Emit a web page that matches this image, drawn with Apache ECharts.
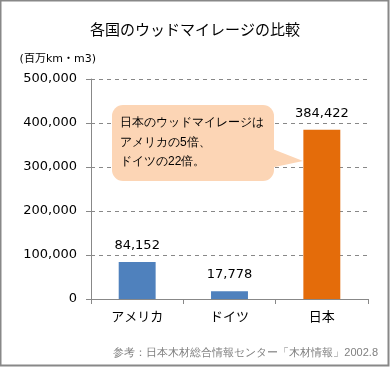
<!DOCTYPE html>
<html><head><meta charset="utf-8">
<script src="https://cdn.jsdelivr.net/npm/echarts@6/dist/echarts.min.js"></script>
<style>html,body{margin:0;padding:0;background:#fff}#c{width:390px;height:367px}</style>
</head><body><div id="c"></div>
<script>
const titleText = '各国のウッドマイレージの比較';
const unitText = '(百万km・m3)';
const categories = ['アメリカ', 'ドイツ', '日本'];
const values = [84152, 17778, 384422];
const barColors = ['#4F81BD', '#4F81BD', '#E46C0A'];
const yTicks = [0, 100000, 200000, 300000, 400000, 500000];
const calloutLines = ['日本のウッドマイレージは', 'アメリカの5倍、', 'ドイツの22倍。'];
const sourceText = '参考：日本木材総合情報センター「木材情報」2002.8';

const FONT = "'DejaVu Sans','Noto Sans CJK JP',sans-serif";
const chart = echarts.init(document.getElementById('c'));
chart.setOption({
  animation: false,
  textStyle: { fontFamily: FONT },
  title: { text: titleText, left: 'center', top: 19,
    textStyle: { fontSize: 15, fontWeight: 'normal', color: '#000', fontFamily: FONT } },
  grid: { left: 91, right: 22, top: 79, bottom: 68, containLabel: false },
  xAxis: { type: 'category', data: categories,
    axisLine: { lineStyle: { color: '#888' } },
    axisTick: { show: true, length: 5, lineStyle: { color: '#888' } },
    axisLabel: { fontSize: 13, color: '#000', margin: 12, fontFamily: FONT } },
  yAxis: { type: 'value', min: yTicks[0], max: yTicks[yTicks.length - 1], interval: 100000,
    name: unitText, nameLocation: 'end', nameGap: 14,
    nameTextStyle: { fontSize: 11, color: '#000', align: 'right', padding: [0, -5, 0, 0], fontFamily: FONT },
    axisLine: { show: true, lineStyle: { color: '#888' } },
    axisTick: { show: true, length: 5, lineStyle: { color: '#888' } },
    splitLine: { lineStyle: { color: '#888', type: [4, 4] } },
    axisLabel: { fontSize: 13, color: '#000', margin: 14, fontFamily: FONT,
      formatter: v => v.toLocaleString('en-US') } },
  series: [{ type: 'bar', barWidth: '40%',
    data: values.map((v, i) => ({ value: v, itemStyle: { color: barColors[i] } })),
    label: { show: true, position: 'top', distance: 10, fontSize: 13, color: '#000', fontFamily: FONT,
      formatter: p => p.value.toLocaleString('en-US') } }],
  graphic: [
    { type: 'rect', shape: { x: 0.5, y: 0.5, width: 388, height: 365 },
      style: { fill: 'none', stroke: '#888', lineWidth: 2 }, silent: true },
    { type: 'polygon', shape: { points: [[270, 148], [303, 161], [270, 168]] },
      style: { fill: '#FCD5B5' }, z: 10 },
    { type: 'rect', shape: { x: 112, y: 105, width: 162, height: 76, r: 11 },
      style: { fill: '#FCD5B5' }, z: 10 },
    { type: 'text', left: 120, top: 113, z: 11,
      style: { text: calloutLines.join('\n'), fontSize: 12, lineHeight: 19.5, fill: '#000', font: '12px ' + FONT } },
    { type: 'text', right: 12, top: 347, z: 11,
      style: { text: sourceText, fontSize: 11, fill: '#808080', font: '11px ' + FONT } }
  ]
});
</script></body></html>
